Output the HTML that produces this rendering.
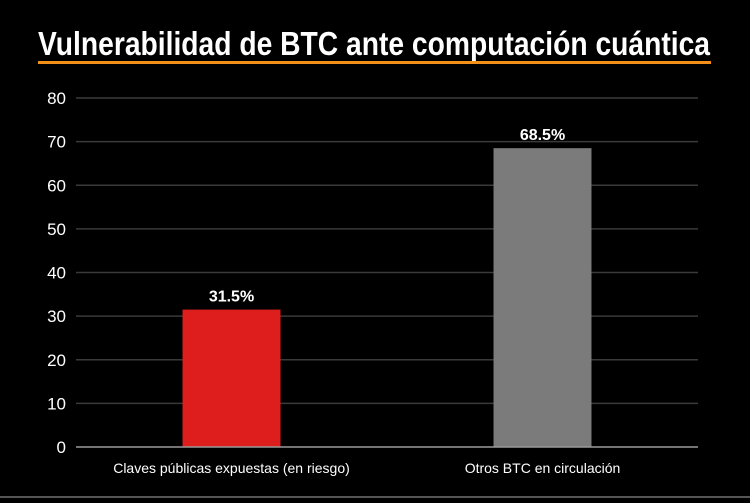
<!DOCTYPE html>
<html><head><meta charset="utf-8"><style>
body{margin:0;background:#000;width:750px;height:498px;overflow:hidden;font-family:"Liberation Sans",sans-serif}
</style></head><body>
<svg width="750" height="498" viewBox="0 0 750 498">
<rect x="0" y="0" width="750" height="498" fill="#000"/>
<text x="374" y="55" text-anchor="middle" fill="#fff" font-size="33" font-weight="bold" textLength="672" lengthAdjust="spacingAndGlyphs">Vulnerabilidad de BTC ante computación cuántica</text>
<rect x="38" y="61" width="673" height="3" fill="#f39019"/>
<g id="grid"></g>
<g id="yt"></g>
<g id="bars"></g>
<g id="xl"></g>
<line x1="76" x2="698" y1="447" y2="447" stroke="#9a9a9a" stroke-width="1.5"/>
<rect x="0" y="496" width="750" height="2" fill="#555"/>
</svg>
<script>
const categories=["Claves públicas expuestas (en riesgo)","Otros BTC en circulación"];
const values=[31.5,68.5];
const valueLabels=["31.5%","68.5%"];
const barColors=["#de1d1d","#7b7b7b"];
const yTicks=[0,10,20,30,40,50,60,70,80];
const NS="http://www.w3.org/2000/svg";
const x0=76,x1=698,yBase=447,yTop=98,yMax=80;
const y=v=>yBase-(v/yMax)*(yBase-yTop);
const band=(x1-x0)/categories.length;
const xc=i=>x0+band*(i+0.5);
const bw=band*0.315;
function mk(t,a,p){const e=document.createElementNS(NS,t);for(const k in a)e.setAttribute(k,a[k]);p.appendChild(e);return e;}
const grid=document.getElementById('grid'),yt=document.getElementById('yt'),bars=document.getElementById('bars'),xl=document.getElementById('xl');
yTicks.forEach(t=>{
 if(t>0){const l=mk('line',{x1:x0,x2:x1,y1:y(t),y2:y(t),stroke:'#3a3a3a','stroke-width':1.5},grid);
 
 }
 const tx=mk('text',{x:66,y:y(t)+6,'text-anchor':'end',fill:'#fff','font-size':17},yt);
 tx.textContent=t;
 
 
});
categories.forEach((c,i)=>{
 const r=mk('rect',{x:xc(i)-bw/2,y:y(values[i]),width:bw,height:yBase-y(values[i]),fill:barColors[i]},bars);
 
 
 const v=mk('text',{x:xc(i),y:y(values[i])-8,'text-anchor':'middle',fill:'#fff','font-size':16,'font-weight':'bold'},bars);
 v.textContent=valueLabels[i];
 
 
 const l=mk('text',{x:xc(i),y:473,'text-anchor':'middle',fill:'#fff','font-size':14},xl);
 l.textContent=c;
 
 
});
</script>
</body></html>
